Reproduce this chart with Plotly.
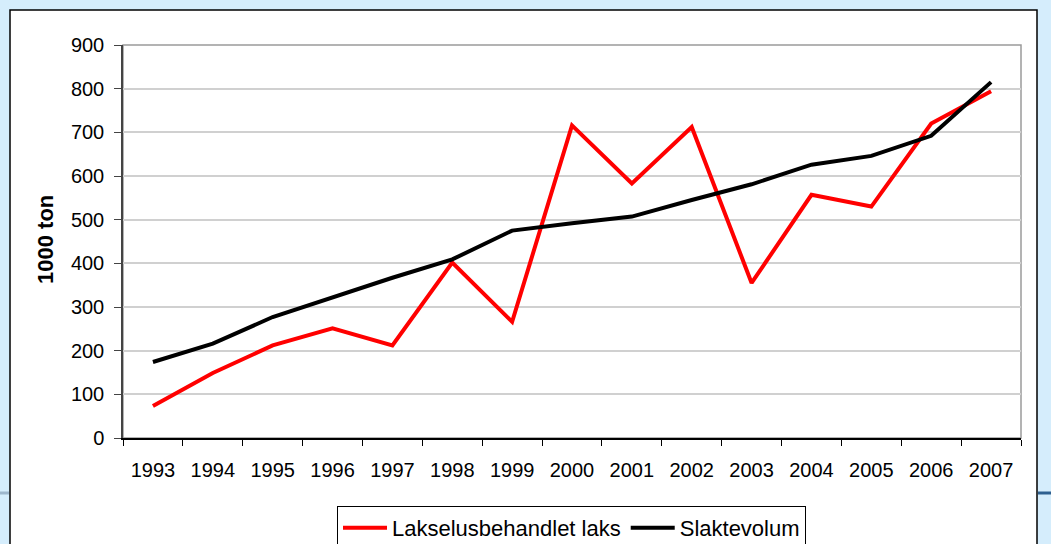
import plotly.graph_objects as go

years = ["1993", "1994", "1995", "1996", "1997", "1998", "1999", "2000",
         "2001", "2002", "2003", "2004", "2005", "2006", "2007"]
lakselus = [73, 149, 212, 251, 212, 402, 266, 716, 583, 712, 355, 557, 530, 720, 794]
slaktevolum = [174, 216, 277, 322, 367, 409, 475, 492, 507, 545, 581, 626, 646, 692, 815]
yticks = [0, 100, 200, 300, 400, 500, 600, 700, 800, 900]

W, H = 1051, 570
L, R, T = 123, 30, 45
PB = 438  # plot bottom pixel
B = H - PB
pw, ph = W - L - R, PB - T


def px(x):
    return (x - L) / pw


def py(y):
    return (PB - y) / ph


fig = go.Figure()
fig.add_trace(go.Scatter(x=years, y=lakselus, mode="lines", name="Lakselusbehandlet laks",
                         line=dict(color="#ff0000", width=4)))
fig.add_trace(go.Scatter(x=years, y=slaktevolum, mode="lines", name="Slaktevolum",
                         line=dict(color="#000000", width=4)))

shapes = [
    # white card
    dict(type="rect", xref="paper", yref="paper", x0=px(10), x1=px(1037), y0=py(580), y1=py(10),
         fillcolor="white", line=dict(color="black", width=1.5), layer="below"),
    # slide decoration lines
    dict(type="line", xref="paper", yref="paper", x0=px(-5), x1=px(9), y0=py(493), y1=py(493),
         line=dict(color="#9db6cc", width=3), layer="below"),
    dict(type="line", xref="paper", yref="paper", x0=px(1038), x1=px(1060), y0=py(493), y1=py(493),
         line=dict(color="#2e6090", width=3), layer="below"),
    # plot area border
    dict(type="rect", xref="paper", yref="paper", x0=0, x1=1, y0=0, y1=1,
         line=dict(color="#9a9a9a", width=1.5), layer="between"),
]

fig.add_annotation(text="<b>1000 ton</b>", textangle=-90, xref="paper", yref="paper",
                   x=px(45), y=py(240), xanchor="center", yanchor="middle", showarrow=False,
                   font=dict(family="Liberation Sans, Arial", size=22, color="black"))

fig.update_layout(
    width=W, height=H,
    margin=dict(l=L, r=R, t=T, b=B, pad=0, autoexpand=False),
    paper_bgcolor="#d5edfc",
    plot_bgcolor="white",
    shapes=shapes,
    font=dict(family="Liberation Sans, Arial", size=20, color="black"),
    showlegend=True,
    legend=dict(orientation="h", x=px(337), xanchor="left", y=py(506), yanchor="top",
                bgcolor="white", bordercolor="black", borderwidth=1,
                font=dict(size=22), traceorder="normal", itemwidth=44),
    xaxis=dict(type="category", categoryorder="array", categoryarray=years,
               tickson="boundaries", ticks="outside", ticklen=6, tickcolor="black",
               showgrid=False, showline=True, linecolor="black", linewidth=1.5,
               tickfont=dict(size=20), range=[-0.5, 14.5], fixedrange=True,
               ticklabelstandoff=13, automargin=False),
    yaxis=dict(range=[0, 900], tickvals=yticks, ticks="outside", ticklen=7, tickcolor="#444",
               showgrid=True, gridcolor="#d0d0d0", gridwidth=1.5,
               showline=True, linecolor="#444", linewidth=1.5, zeroline=False,
               tickfont=dict(size=20), fixedrange=True, ticklabelstandoff=6,
               automargin=False),
)

fig.write_html("out.html", config={"displayModeBar": False},
               post_script="document.body.style.margin='0';document.body.style.overflow='hidden';"
                           "document.documentElement.style.overflow='hidden';")
